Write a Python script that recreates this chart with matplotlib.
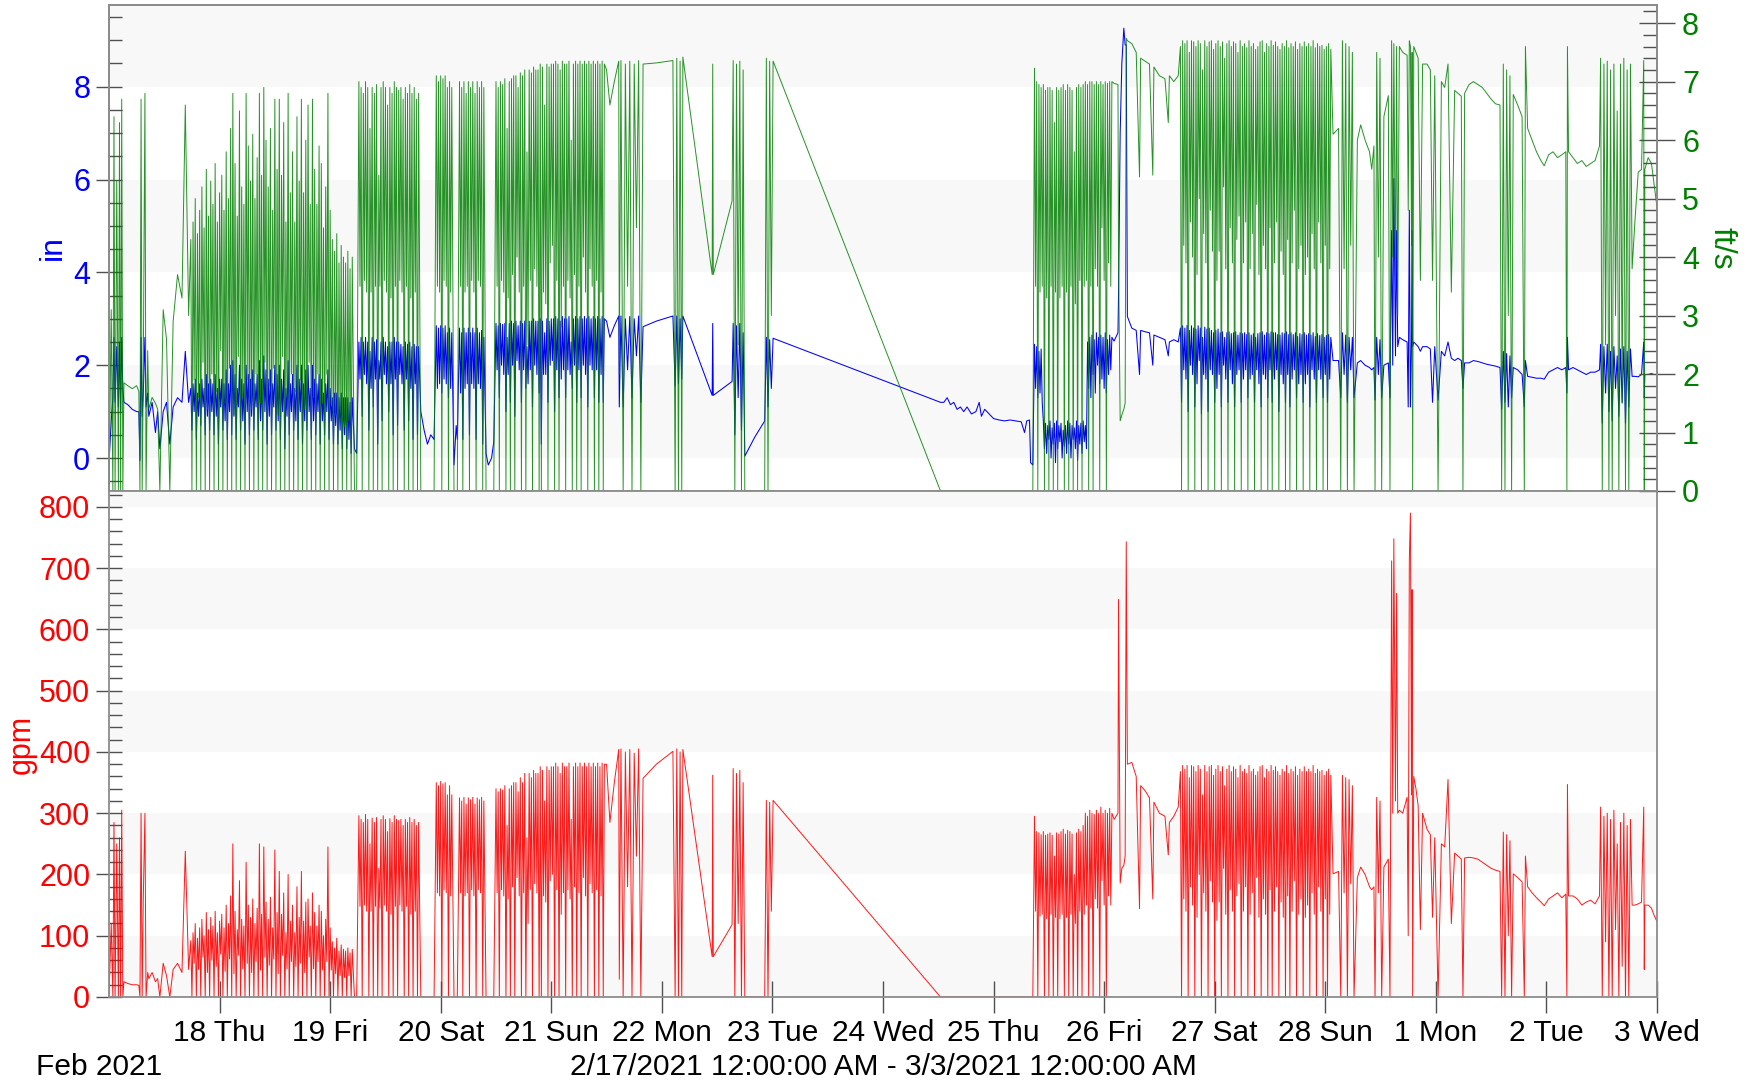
import numpy as np
import matplotlib
matplotlib.use("Agg")
import matplotlib.pyplot as plt
from matplotlib.ticker import MultipleLocator

plt.rcParams['font.family'] = ['Liberation Sans', 'DejaVu Sans']

# x axis: days after 2/17/2021 12:00 AM
day_ticks = [1, 2, 3, 4, 5, 6, 7, 8, 9, 10, 11, 12, 13, 14]
day_labels = ["18 Thu", "19 Fri", "20 Sat", "21 Sun", "22 Mon", "23 Tue", "24 Wed",
              "25 Thu", "26 Fri", "27 Sat", "28 Sun", "1 Mon", "2 Tue", "3 Wed"]

# sample times (days), one line per stretch of the record
t_days = [
    0.00, 0.02, 0.035, 0.045, 0.055, 0.07, 0.085, 0.095, 0.105, 0.115, 0.125, 0.135,
    0.17, 0.21, 0.25, 0.27,
    0.28, 0.29, 0.30, 0.31, 0.325, 0.335, 0.35, 0.36,
    0.39, 0.42, 0.44, 0.46, 0.49, 0.52, 0.55, 0.58, 0.62, 0.66, 0.69, 0.72,
    # 18 Thu - 19 Fri bursts
    0.74, 0.75, 0.76, 0.77, 0.78, 0.79, 0.80, 0.81, 0.82, 0.83,
    0.84, 0.85, 0.86, 0.87, 0.88, 0.89, 0.90, 0.91, 0.92, 0.93,
    0.94, 0.95, 0.96, 0.97, 0.98, 0.99, 1.00, 1.01, 1.02, 1.03,
    1.04, 1.05, 1.06, 1.07, 1.08, 1.09, 1.10, 1.11, 1.12, 1.13,
    1.14, 1.15, 1.16, 1.17, 1.18, 1.19, 1.20, 1.21, 1.22, 1.23,
    1.24, 1.25, 1.26, 1.27, 1.28, 1.29, 1.30, 1.31, 1.32, 1.33,
    1.34, 1.35, 1.36, 1.37, 1.38, 1.39, 1.40, 1.41, 1.42, 1.43,
    1.44, 1.45, 1.46, 1.47, 1.48, 1.49, 1.50, 1.51, 1.52, 1.53,
    1.54, 1.55, 1.56, 1.57, 1.58, 1.59, 1.60, 1.61, 1.62, 1.63,
    1.64, 1.65, 1.66, 1.67, 1.68, 1.69, 1.70, 1.71, 1.72, 1.73,
    1.74, 1.75, 1.76, 1.77, 1.78, 1.79, 1.80, 1.81, 1.82, 1.83,
    1.84, 1.85, 1.86, 1.87, 1.88, 1.89, 1.90, 1.91, 1.92, 1.93,
    1.94, 1.95, 1.96, 1.97, 1.98, 1.99, 2.00, 2.01, 2.02, 2.03,
    2.04, 2.05, 2.06, 2.07, 2.08, 2.09, 2.10, 2.11, 2.12, 2.13,
    2.14, 2.15, 2.16, 2.17, 2.18, 2.19, 2.20,
    2.22, 2.24,
    # 20 Sat
    2.26, 2.27, 2.28, 2.29, 2.30, 2.31, 2.32, 2.33, 2.34, 2.35,
    2.36, 2.37, 2.38, 2.39, 2.40, 2.41, 2.42, 2.43, 2.44, 2.45,
    2.46, 2.47, 2.48, 2.49, 2.50, 2.51, 2.52, 2.53, 2.54, 2.55,
    2.56, 2.57, 2.58, 2.59, 2.60, 2.61, 2.62, 2.63, 2.64, 2.65,
    2.66, 2.67, 2.68, 2.69, 2.70, 2.71, 2.72, 2.73, 2.74, 2.75,
    2.76, 2.77, 2.78, 2.79, 2.80,
    2.82, 2.85, 2.88, 2.91, 2.94,
    2.96, 2.97, 2.98, 2.99, 3.00, 3.01, 3.02, 3.03, 3.04, 3.05, 3.06, 3.07, 3.08, 3.09, 3.10,
    3.12, 3.14, 3.15,
    3.17, 3.18, 3.19, 3.20, 3.21, 3.22, 3.23, 3.24, 3.25, 3.26,
    3.27, 3.28, 3.29, 3.30, 3.31, 3.32, 3.33, 3.34, 3.35, 3.36,
    3.37, 3.38, 3.39,
    3.41, 3.43, 3.46, 3.48,
    # 21 Sun
    3.50, 3.51, 3.52, 3.53, 3.54, 3.55, 3.56, 3.57, 3.58, 3.59,
    3.60, 3.61, 3.62, 3.63, 3.64, 3.65, 3.66, 3.67, 3.68, 3.69,
    3.70, 3.71, 3.72, 3.73, 3.74, 3.75, 3.76, 3.77, 3.78, 3.79,
    3.80, 3.81, 3.82, 3.83, 3.84, 3.85, 3.86, 3.87, 3.88, 3.89,
    3.90, 3.91, 3.92, 3.93, 3.94, 3.95, 3.96, 3.97, 3.98, 3.99,
    4.00, 4.01, 4.02, 4.03, 4.04, 4.05, 4.06, 4.07, 4.08, 4.09,
    4.10, 4.11, 4.12, 4.13, 4.14, 4.15, 4.16, 4.17, 4.18, 4.19,
    4.20, 4.21, 4.22, 4.23, 4.24, 4.25, 4.26, 4.27, 4.28, 4.29,
    4.30, 4.31, 4.32, 4.33, 4.34, 4.35, 4.36, 4.37, 4.38, 4.39,
    4.40, 4.41, 4.42, 4.43, 4.44, 4.45, 4.46, 4.47, 4.48,
    4.50, 4.53, 4.57, 4.61, 4.615,
    4.63, 4.65, 4.67, 4.69, 4.71, 4.73, 4.75, 4.77, 4.79, 4.81,
    4.83, 4.95, 5.10,
    5.12, 5.135, 5.15, 5.165, 5.18, 5.19,
    5.455, 5.46, 5.465, 5.635,
    5.645, 5.66, 5.675, 5.69, 5.705, 5.72, 5.735, 5.75,
    5.84, 5.93,
    5.945, 5.96, 5.975, 5.99, 6.006,
    7.52,
    7.55, 7.58, 7.61, 7.64, 7.67, 7.70, 7.73, 7.76, 7.80, 7.84,
    7.87, 7.89, 7.92, 7.96, 8.00, 8.05, 8.10, 8.15, 8.20, 8.25,
    8.28, 8.30, 8.325, 8.335, 8.355,
    # 25 Thu - 26 Fri
    8.37, 8.38, 8.39, 8.40, 8.41, 8.42, 8.43, 8.44, 8.45, 8.46,
    8.47, 8.48, 8.49, 8.50, 8.51, 8.52, 8.53, 8.54, 8.55, 8.56,
    8.57, 8.58, 8.59, 8.60, 8.61, 8.62, 8.63, 8.64, 8.65, 8.66,
    8.67, 8.68, 8.69, 8.70, 8.71, 8.72, 8.73, 8.74, 8.75, 8.76,
    8.77, 8.78, 8.79, 8.80, 8.81, 8.82, 8.83, 8.84, 8.85, 8.86,
    8.87, 8.88, 8.89, 8.90, 8.91, 8.92, 8.93, 8.94, 8.95, 8.96,
    8.97, 8.98, 8.99, 9.00, 9.01, 9.02, 9.03, 9.04, 9.05, 9.06,
    9.07,
    9.09, 9.125,
    9.13, 9.145, 9.16, 9.178, 9.19, 9.20, 9.21,
    9.25, 9.29, 9.32, 9.33, 9.37, 9.41, 9.44, 9.45, 9.50, 9.55, 9.58, 9.59, 9.63, 9.67,
    # 27 Sat - 28 Sun
    9.69, 9.70, 9.71, 9.72, 9.73, 9.74, 9.75, 9.76, 9.77, 9.78,
    9.79, 9.80, 9.81, 9.82, 9.83, 9.84, 9.85, 9.86, 9.87, 9.88,
    9.89, 9.90, 9.91, 9.92, 9.93, 9.94, 9.95, 9.96, 9.97, 9.98,
    9.99, 10.00, 10.01, 10.02, 10.03, 10.04, 10.05, 10.06, 10.07, 10.08,
    10.09, 10.10, 10.11, 10.12, 10.13, 10.14, 10.15, 10.16, 10.17, 10.18,
    10.19, 10.20, 10.21, 10.22, 10.23, 10.24, 10.25, 10.26, 10.27, 10.28,
    10.29, 10.30, 10.31, 10.32, 10.33, 10.34, 10.35, 10.36, 10.37, 10.38,
    10.39, 10.40, 10.41, 10.42, 10.43, 10.44, 10.45, 10.46, 10.47, 10.48,
    10.49, 10.50, 10.51, 10.52, 10.53, 10.54, 10.55, 10.56, 10.57, 10.58,
    10.59, 10.60, 10.61, 10.62, 10.63, 10.64, 10.65, 10.66, 10.67, 10.68,
    10.69, 10.70, 10.71, 10.72, 10.73, 10.74, 10.75, 10.76, 10.77, 10.78,
    10.79, 10.80, 10.81, 10.82, 10.83, 10.84, 10.85, 10.86, 10.87, 10.88,
    10.89, 10.90, 10.91, 10.92, 10.93, 10.94, 10.95, 10.96, 10.97, 10.98,
    10.99, 11.00, 11.01, 11.02, 11.03, 11.04, 11.05,
    11.07, 11.12,
    11.14, 11.155, 11.17, 11.185, 11.20, 11.215, 11.23, 11.245, 11.26,
    11.29, 11.32, 11.36, 11.40, 11.42, 11.44,
    11.45, 11.465, 11.48, 11.495, 11.51,
    11.53, 11.57,
    11.585, 11.60, 11.61, 11.62, 11.635, 11.645, 11.655,
    11.67, 11.70, 11.74, 11.75, 11.76, 11.77, 11.78, 11.785, 11.79, 11.80, 11.82, 11.84, 11.86, 11.88,
    11.92, 11.95, 11.97, 11.99, 12.02, 12.05, 12.08, 12.11, 12.14, 12.17, 12.20, 12.23, 12.245, 12.26,
    12.30, 12.34, 12.38, 12.42, 12.46, 12.50, 12.54, 12.58,
    12.595, 12.61, 12.625, 12.64, 12.655, 12.67, 12.685, 12.70,
    12.74, 12.78, 12.80, 12.81, 12.83, 12.87, 12.91, 12.95, 12.98,
    13.02, 13.06, 13.10, 13.14, 13.175, 13.185, 13.19, 13.20,
    13.24, 13.28, 13.32, 13.36, 13.40, 13.44, 13.48,
    13.49, 13.505, 13.52, 13.535, 13.55, 13.565, 13.58, 13.595, 13.61, 13.625,
    13.64, 13.655, 13.67, 13.685, 13.70, 13.715, 13.73, 13.745, 13.76, 13.775,
    13.80, 13.83, 13.86, 13.88, 13.885, 13.89, 13.92, 13.95, 13.97, 14.0,
]

# depth (in), left axis of the top panel
depth_in = [
    -0.1, 0.8, 1.3, 2.6, 1.2, 2.4, 1.1, 2.5, 1.0, 2.6, 1.5, 1.2,
    1.15, 1.05, 1.0, 1.0,
    -0.05, 2.6, 0.9, 1.4, 2.6, 1.1, 1.4, 0.9,
    1.2, 0.55, 1.0, 0.2, 1.0, 1.2, 0.3, 1.1, 1.3, 1.2, 2.3, 1.2,
    1.5, 0.6, 1.6, 1.0, 1.7, 0.4, 1.4, 0.9, 1.6, 0.7,
    1.7, 1.1, 1.5, 0.5, 1.8, 0.9, 1.6, 0.6, 1.7, 1.0,
    1.6, 0.5, 1.8, 0.9, 1.5, 0.3, 1.7, 1.1, 1.7, 0.6,
    1.6, 0.8, 1.9, 0.4, 1.6, 1.0, 2.0, 0.5, 2.1, 0.9,
    1.8, 0.4, 1.5, 1.1, 2.0, 0.6, 1.7, 0.8, 1.6, 0.3,
    2.0, 1.0, 1.8, 0.5, 1.7, 0.9, 1.9, 0.6, 1.6, 1.1,
    1.8, 0.4, 2.1, 0.8, 1.7, 0.6, 2.2, 1.0, 1.9, 0.3,
    1.7, 0.9, 1.9, 0.5, 1.6, 1.1, 2.0, 0.6, 1.8, 0.8,
    2.0, 0.4, 1.7, 1.0, 1.9, 0.2, 1.5, 0.9, 2.1, 0.5,
    1.6, 1.0, 1.8, 0.6, 1.5, 0.8, 2.0, 0.4, 1.7, 1.0,
    2.0, 0.3, 1.6, 0.8, 1.9, 0.6, 2.0, 1.0, 1.5, 0.4,
    2.0, 0.8, 1.7, 0.5, 1.6, 1.0, 1.8, 0.3, 1.7, 0.8,
    1.4, 0.5, 1.6, 1.0, 1.9, 0.4, 1.5, 0.8, 1.3, 0.3,
    1.4, 0.7, 1.4, 0.3, 1.3, 0.6, 1.4, 0.2, 1.3, 0.5,
    1.3, 0.2, 1.3, 0.4, 1.2, 0.1, 1.3,
    0.2, 0.1,
    2.5, 1.7, 2.6, 0.9, 2.5, 1.8, 2.6, 1.6, 2.5, 0.6,
    2.3, 1.5, 2.6, 1.1, 2.5, 1.7, 2.55, 0.3, 2.1, 1.7,
    2.5, 0.8, 2.6, 1.8, 2.5, 1.6, 2.4, 1.0, 2.5, 1.6,
    2.5, 0.5, 2.6, 1.7, 2.5, 0.7, 2.5, 1.8, 2.45, 1.6,
    2.4, 0.6, 2.5, 1.7, 2.45, 0.8, 2.5, 1.5, 2.4, 0.4,
    2.45, 1.6, 2.4, 0.5, 2.4,
    1.0, 0.6, 0.3, 0.5, 0.4,
    2.85, 1.5, 2.8, 1.6, 2.85, 1.4, 2.8, 1.7, 2.85, 1.6, 2.7, 1.3, 2.8, 1.5, 2.7,
    -0.15, 0.7, 0.4,
    2.8, 1.4, 2.7, 0.4, 2.8, 1.5, 2.7, 1.6, 2.8, 0.5,
    2.7, 1.6, 2.8, 1.5, 2.7, 0.4, 2.8, 1.6, 2.7, 1.5,
    2.75, 0.3, 2.6,
    0.1, -0.15, 0.0, 0.35,
    2.9, 1.9, 2.85, 1.3, 2.9, 2.0, 2.88, 1.8, 2.9, 1.0,
    2.6, 1.8, 2.9, 1.2, 2.95, 2.0, 2.9, 0.9, 2.95, 2.1,
    2.85, 1.9, 2.95, 1.2, 2.9, 1.9, 2.95, 1.5, 2.4, 1.6,
    2.95, 1.9, 2.95, 1.1, 3.0, 2.0, 2.95, 1.8, 2.95, 1.4,
    3.0, 0.3, 2.95, 1.8, 2.7, 1.8, 3.0, 1.2, 2.95, 2.0,
    3.0, 2.1, 3.0, 1.0, 3.05, 1.9, 3.0, 1.3, 2.95, 1.7,
    3.05, 1.9, 3.0, 1.3, 3.0, 1.9, 3.05, 1.8, 2.5, 1.5,
    3.0, 2.0, 3.05, 1.2, 3.0, 1.9, 3.05, 1.3, 3.0, 2.0,
    3.05, 1.8, 3.0, 1.1, 3.05, 2.0, 3.0, 1.9, 3.05, 1.3,
    3.0, 1.9, 3.05, 1.2, 3.0, 1.8, 3.05, 1.2, 3.0,
    2.95, 2.6, 2.85, 3.06, 1.1,
    3.06, 1.1, 3.0, 1.9, 3.05, 1.3, 3.0, 2.2, 3.06, 1.2,
    2.83, 2.95, 3.06,
    1.55, 3.06, 1.6, 3.0, 1.7, 3.06,
    1.35, 2.9, 1.35, 1.65,
    2.9, 0.5, 2.85, 1.3, 2.9, 0.6, 2.7, 0.04,
    0.45, 0.8,
    2.6, 1.1, 2.55, 1.5, 2.58,
    1.2,
    1.2, 1.3, 1.15, 1.2, 1.05, 1.1, 1.0, 1.1, 0.95, 1.0,
    1.2, 0.9, 1.05, 0.95, 0.85, 0.82, 0.8, 0.82, 0.8, 0.78,
    0.55, 0.8, 0.82, -0.1, -0.15,
    2.45, 1.5, 2.4, 1.3, 2.3, 1.4, 2.35, 1.2, 0.8, 0.2,
    0.75, 0.1, 0.7, 0.4, 0.8, 0.0, 0.65, 0.3, 0.75, -0.1,
    0.8, 0.2, 0.7, 0.35, 0.75, 0.0, 0.6, 0.25, 0.7, 0.1,
    0.8, 0.3, 0.75, 0.0, 0.7, 0.4, 0.65, 0.2, 0.8, -0.05,
    0.7, 0.3, 0.75, 0.1, 0.8, 0.35, 0.7, 0.2, 2.5, 1.5,
    2.6, 1.3, 2.65, 1.8, 2.55, 1.4, 2.7, 2.0, 2.6, 1.6,
    2.65, 1.7, 2.6, 1.5, 2.7, 1.4, 2.55, 1.8, 2.65, 1.9,
    2.6,
    2.52, 2.7,
    3.5, 7.0, 8.5, 9.26, 8.9, 8.9, 3.05,
    2.8, 2.75, 1.8, 2.75, 2.72, 2.7, 2.0, 2.65, 2.6, 2.55, 2.2, 2.5, 2.55, 2.5,
    2.8, 1.2, 2.85, 1.9, 2.8, 1.7, 2.86, 1.0, 2.75, 2.0,
    2.85, 1.8, 2.8, 1.1, 2.78, 1.6, 2.85, 2.1, 2.8, 0.95,
    2.6, 1.8, 2.82, 1.7, 2.78, 1.0, 2.8, 1.9, 2.75, 1.8,
    2.7, 1.2, 2.75, 1.5, 2.78, 1.8, 2.7, 1.1, 2.72, 2.0,
    2.6, 1.7, 2.7, 1.2, 2.72, 1.9, 2.68, 1.6, 2.7, 1.1,
    2.72, 1.8, 2.65, 1.9, 2.7, 1.2, 2.68, 1.7, 2.7, 1.9,
    2.66, 1.3, 2.7, 1.7, 2.65, 1.8, 2.68, 1.2, 2.6, 1.9,
    2.68, 1.6, 2.7, 1.1, 2.72, 1.8, 2.65, 1.7, 2.7, 1.3,
    2.68, 1.9, 2.72, 1.2, 2.7, 1.7, 2.7, 1.9, 2.66, 1.0,
    2.65, 1.8, 2.7, 1.6, 2.68, 1.2, 2.72, 1.8, 2.66, 1.1,
    2.7, 1.7, 2.66, 1.9, 2.7, 1.3, 2.62, 1.6, 2.68, 1.8,
    2.66, 1.2, 2.7, 1.6, 2.65, 1.8, 2.68, 1.1, 2.65, 1.9,
    2.7, 1.7, 2.62, 1.2, 2.68, 1.9, 2.64, 1.7, 2.66, 1.3,
    2.6, 1.8, 2.64, 1.2, 2.66, 1.7, 2.6,
    2.1, 2.1,
    1.3, 2.7, 1.8, 2.65, 1.2, 2.6, 1.9, 2.6, 1.3,
    2.05, 2.1, 2.0, 1.95, 1.9, 1.95,
    1.25, 2.6, 1.8, 2.55, 1.3,
    2.0, 2.05,
    1.3, 4.9, 2.0, 6.02, 2.2, 4.9, 2.4,
    2.6, 2.55, 2.5, 1.1, 5.34, 1.1, 2.5, 4.9, 2.4, 2.5, 2.45, 2.4, 2.3, 2.4,
    2.4, 2.35, 1.2, 2.4, 1.25, 2.3, 2.2, 2.5, 2.15, 2.1, 2.15, 2.1, 1.5, 2.05,
    2.05, 2.1, 2.08, 2.05, 2.02, 2.0, 1.98, 1.95,
    1.05, 2.3, 1.2, 2.25, 1.1, 2.2, 1.3, 1.95,
    1.9, 1.8, 1.1, 2.1, 1.76, 1.74, 1.72, 1.72, 1.7,
    1.85, 1.9, 1.95, 1.9, 1.95, 1.4, 2.6, 1.9,
    1.95, 1.9, 1.85, 1.8, 1.85, 1.85, 1.9,
    2.45, 0.75, 2.4, 1.4, 2.45, 1.0, 2.3, 0.8, 2.4, 1.5,
    2.2, 0.9, 2.35, 1.2, 2.4, 0.75, 2.3, 1.1, 2.35, 1.76,
    1.76, 1.75, 1.8, 2.5, 1.3, 1.8, 1.8, 1.82, 1.8, 1.8,
]

# velocity (ft/s), right axis of the top panel
velocity_fts = [
    0.0, 3.1, 0.0, 6.4, 0.0, 5.3, 0.0, 6.3, 0.0, 6.7, 0.0, 1.85,
    1.8, 1.75, 1.8, 1.7,
    0.0, 6.7, 0.0, 2.0, 6.8, 0.0, 2.4, 1.4,
    1.6, 1.5, 1.4, 0.0, 3.1, 2.6, 0.0, 2.9, 3.7, 3.3, 6.6, 3.0,
    4.3, 0.0, 4.6, 1.9, 5.0, 0.0, 4.4, 1.6, 4.8, 0.0,
    5.2, 2.2, 4.5, 0.0, 5.5, 1.4, 4.7, 0.0, 5.3, 2.0,
    4.9, 0.0, 5.6, 1.7, 4.6, 0.0, 5.1, 2.4, 5.4, 0.0,
    4.8, 1.5, 5.8, 0.0, 5.0, 2.1, 6.2, 0.0, 6.8, 1.3,
    5.6, 0.0, 4.7, 2.3, 6.5, 0.0, 5.2, 1.6, 4.9, 0.0,
    6.8, 1.9, 5.9, 0.0, 5.3, 1.4, 6.1, 0.0, 5.0, 2.0,
    5.7, 0.0, 6.8, 1.5, 5.4, 0.0, 6.9, 2.2, 6.0, 0.0,
    5.2, 1.8, 6.2, 0.0, 4.8, 2.1, 6.7, 0.0, 5.5, 1.3,
    6.7, 0.0, 5.4, 2.3, 6.3, 0.0, 4.6, 1.6, 6.8, 0.0,
    5.1, 2.0, 5.8, 0.0, 4.6, 1.7, 6.4, 0.0, 5.3, 1.9,
    6.7, 0.0, 5.1, 1.4, 6.0, 0.0, 6.6, 2.2, 4.9, 0.0,
    6.7, 1.6, 5.5, 0.0, 4.9, 2.0, 5.9, 0.0, 5.6, 1.5,
    4.5, 0.0, 5.2, 2.0, 6.8, 0.0, 4.8, 1.5, 4.3, 0.0,
    4.1, 1.3, 4.4, 0.0, 3.9, 1.2, 4.2, 0.0, 4.0, 1.1,
    3.9, 0.0, 4.1, 1.2, 3.8, 0.0, 4.0,
    0.0, 0.0,
    7.0, 3.5, 6.9, 0.0, 6.8, 3.6, 7.0, 3.4, 6.9, 0.0,
    6.2, 3.4, 6.9, 0.0, 6.8, 3.5, 6.95, 0.0, 5.4, 3.5,
    6.9, 0.0, 7.0, 3.6, 6.9, 3.4, 6.6, 0.0, 6.9, 3.3,
    6.8, 0.0, 7.0, 3.5, 6.9, 0.0, 6.85, 3.6, 6.9, 3.4,
    6.7, 0.0, 6.9, 3.5, 6.8, 0.0, 6.95, 3.3, 6.8, 0.0,
    6.9, 3.4, 6.7, 0.0, 6.8,
    0.0, 0.0, 0.0, 0.0, 0.0,
    7.1, 3.5, 7.0, 3.4, 7.1, 0.0, 7.05, 3.6, 7.1, 3.5, 6.9, 0.0, 7.0, 3.4, 6.9,
    0.0, 0.0, 0.0,
    7.0, 3.5, 6.9, 0.0, 7.0, 3.4, 6.8, 3.5, 7.0, 0.0,
    6.9, 3.6, 7.0, 3.4, 6.8, 0.0, 7.0, 3.6, 6.9, 3.5,
    7.0, 0.0, 6.9,
    0.0, 0.0, 0.0, 0.0,
    7.0, 3.5, 6.9, 0.0, 7.0, 3.6, 6.95, 3.4, 7.05, 0.0,
    6.2, 3.3, 7.0, 0.0, 7.05, 3.7, 7.1, 0.0, 7.1, 4.0,
    6.9, 3.4, 7.15, 0.0, 7.1, 3.5, 7.2, 0.0, 5.8, 2.5,
    7.2, 3.6, 7.15, 0.0, 7.25, 3.8, 7.2, 3.5, 7.2, 0.0,
    7.3, 0.0, 7.25, 3.4, 6.6, 3.2, 7.3, 0.0, 7.25, 3.9,
    7.3, 4.2, 7.3, 0.0, 7.35, 3.6, 7.3, 0.0, 7.2, 2.8,
    7.35, 3.5, 7.3, 0.0, 7.3, 3.6, 7.35, 3.3, 6.0, 0.0,
    7.3, 3.7, 7.35, 0.0, 7.3, 3.5, 7.35, 0.0, 7.3, 4.0,
    7.35, 3.4, 7.3, 0.0, 7.35, 3.8, 7.3, 3.5, 7.35, 0.0,
    7.3, 3.6, 7.35, 0.0, 7.3, 3.4, 7.35, 0.0, 7.3,
    7.2, 6.6, 7.0, 7.35, 2.0,
    7.36, 0.0, 7.3, 3.5, 7.35, 0.0, 7.3, 4.5, 7.36, 0.0,
    7.3, 7.32, 7.36,
    0.0, 7.4, 0.0, 7.35, 0.0, 7.42,
    3.7, 7.3, 3.7, 4.96,
    7.36, 0.0, 7.3, 2.5, 7.35, 0.0, 7.2, 0.0,
    0.0, 0.0,
    7.4, 0.0, 7.35, 3.0, 7.35,
    0.0,
    0.0, 0.0, 0.0, 0.0, 0.0, 0.0, 0.0, 0.0, 0.0, 0.0,
    0.0, 0.0, 0.0, 0.0, 0.0, 0.0, 0.0, 0.0, 0.0, 0.0,
    0.0, 0.0, 0.0, 0.0, 0.0,
    7.23, 3.5, 7.0, 0.0, 6.95, 3.4, 6.9, 3.5, 6.95, 0.0,
    6.85, 3.3, 6.9, 0.0, 6.9, 3.5, 6.85, 0.0, 6.3, 3.4,
    6.9, 0.0, 6.85, 3.3, 6.9, 3.5, 6.95, 0.0, 6.85, 3.4,
    6.95, 0.0, 6.9, 3.5, 6.85, 0.0, 5.8, 3.2, 6.9, 0.0,
    6.95, 3.6, 6.9, 0.0, 6.95, 3.5, 7.0, 3.6, 6.95, 0.0,
    7.0, 3.5, 7.0, 0.0, 6.95, 3.8, 7.0, 3.5, 6.95, 0.0,
    7.0, 4.5, 6.95, 3.6, 7.0, 0.0, 6.97, 3.9, 7.0, 3.5,
    7.0,
    6.97, 6.95,
    4.0, 1.2, 1.3, 1.4, 1.5, 7.74, 7.7,
    7.65, 7.5, 5.37, 7.4, 7.35, 7.3, 5.4, 7.25, 7.1, 7.05, 6.3, 7.1, 7.0, 7.1,
    7.6, 0.0, 7.7, 4.2, 7.65, 3.9, 7.7, 0.0, 7.5, 4.6,
    7.7, 4.0, 7.68, 0.0, 7.6, 3.7, 7.7, 5.0, 7.65, 0.0,
    7.2, 4.4, 7.7, 3.9, 7.6, 0.0, 7.68, 4.8, 7.7, 4.1,
    7.55, 0.0, 7.65, 3.6, 7.7, 4.1, 7.6, 0.0, 7.68, 5.2,
    7.4, 3.8, 7.65, 0.0, 7.7, 4.5, 7.6, 3.9, 7.68, 0.0,
    7.65, 4.3, 7.5, 4.7, 7.7, 0.0, 7.6, 3.9, 7.65, 4.6,
    7.58, 0.0, 7.7, 3.8, 7.6, 4.4, 7.65, 0.0, 7.55, 4.9,
    7.6, 3.7, 7.68, 0.0, 7.7, 4.2, 7.5, 3.8, 7.65, 0.0,
    7.6, 4.5, 7.7, 0.0, 7.62, 3.9, 7.68, 4.6, 7.6, 0.0,
    7.55, 4.1, 7.65, 3.7, 7.6, 0.0, 7.7, 4.3, 7.58, 0.0,
    7.65, 3.9, 7.6, 4.8, 7.68, 0.0, 7.55, 3.8, 7.65, 4.2,
    7.6, 0.0, 7.68, 3.7, 7.6, 4.0, 7.65, 0.0, 7.6, 4.4,
    7.7, 3.8, 7.58, 0.0, 7.65, 4.6, 7.6, 3.9, 7.62, 0.0,
    7.55, 4.2, 7.6, 0.0, 7.65, 3.8, 7.55,
    6.1, 6.2,
    0.0, 7.7, 3.8, 7.65, 0.0, 7.6, 4.2, 7.5, 0.0,
    6.0, 6.26, 6.0, 5.8, 5.5, 5.9,
    0.0, 7.5, 4.0, 7.4, 0.0,
    6.4, 6.76,
    0.0, 7.7, 4.0, 7.65, 3.5, 7.6, 3.0,
    7.6, 7.5, 7.45, 4.8, 7.7, 7.6, 4.2, 7.5, 0.0, 7.6, 7.5, 7.4, 3.6, 7.3,
    7.3, 7.2, 3.6, 7.1, 0.0, 7.0, 6.9, 7.3, 3.4, 6.85, 6.8, 6.75, 0.0, 6.8,
    6.95, 7.0, 6.95, 6.9, 6.8, 6.7, 6.62, 6.6,
    0.0, 7.3, 0.0, 7.2, 3.0, 7.1, 0.0, 6.78,
    6.6, 6.4, 0.0, 7.6, 6.2, 6.0, 5.8, 5.65, 5.56,
    5.75, 5.8, 5.7, 5.75, 5.8, 0.0, 7.6, 5.8,
    5.7, 5.6, 5.65, 5.55, 5.6, 5.65, 5.9,
    7.4, 0.0, 7.3, 2.5, 7.35, 0.0, 7.2, 0.0, 7.3, 3.0,
    6.5, 0.0, 7.3, 1.5, 7.4, 0.0, 7.2, 0.0, 7.3, 3.8,
    4.6, 5.45, 5.5, 7.36, 0.0, 5.5, 5.7, 5.6, 5.3, 4.85,
]

# flow (gpm), bottom panel
flow_gpm = [
    0, 120, 0, 285, 0, 250, 0, 260, 0, 305, 0, 25,
    22, 20, 20, 19,
    0, 300, 0, 160, 300, 0, 40, 30,
    40, 25, 30, 0, 55, 35, 0, 45, 55, 40, 238, 45,
    92, 0, 105, 55, 120, 0, 96, 45, 113, 0,
    127, 65, 100, 0, 138, 40, 110, 0, 130, 60,
    116, 0, 140, 50, 105, 0, 124, 70, 135, 0,
    113, 42, 150, 0, 120, 62, 165, 0, 250, 38,
    140, 0, 110, 68, 190, 0, 127, 46, 116, 0,
    220, 55, 150, 0, 130, 40, 160, 0, 120, 58,
    145, 0, 250, 44, 135, 0, 245, 65, 155, 0,
    127, 52, 163, 0, 113, 62, 240, 0, 138, 38,
    205, 0, 135, 68, 170, 0, 105, 46, 200, 0,
    124, 58, 150, 0, 105, 50, 180, 0, 130, 55,
    205, 0, 124, 40, 155, 0, 160, 65, 116, 0,
    170, 46, 138, 0, 116, 58, 150, 0, 140, 44,
    100, 0, 127, 58, 245, 0, 113, 44, 90, 0,
    80, 38, 96, 0, 75, 35, 85, 0, 78, 32,
    75, 0, 80, 35, 72, 0, 78,
    0, 0,
    296, 148, 290, 0, 285, 150, 298, 140, 290, 0,
    250, 140, 292, 0, 285, 148, 293, 0, 210, 145,
    290, 0, 296, 150, 290, 140, 270, 0, 291, 135,
    285, 0, 296, 148, 290, 0, 288, 150, 290, 140,
    280, 0, 290, 148, 285, 0, 293, 135, 285, 0,
    290, 140, 280, 0, 285,
    0, 0, 0, 0, 0,
    350, 170, 345, 165, 352, 0, 348, 175, 350, 170, 330, 0, 345, 165, 330,
    0, 0, 0,
    325, 170, 320, 0, 326, 165, 315, 170, 325, 0,
    322, 175, 326, 165, 315, 0, 325, 175, 322, 170,
    326, 0, 320,
    0, 0, 0, 0,
    340, 170, 335, 0, 340, 175, 338, 165, 345, 0,
    280, 160, 340, 0, 345, 180, 350, 0, 350, 195,
    335, 165, 358, 0, 350, 170, 365, 0, 260, 120,
    365, 175, 358, 0, 370, 185, 365, 170, 365, 0,
    376, 0, 370, 165, 320, 155, 376, 0, 370, 190,
    376, 200, 376, 0, 382, 175, 376, 0, 365, 135,
    382, 170, 376, 0, 376, 175, 382, 160, 290, 0,
    376, 180, 382, 0, 376, 170, 382, 0, 376, 195,
    382, 165, 376, 0, 382, 185, 376, 170, 382, 0,
    376, 175, 382, 0, 376, 165, 382, 0, 380,
    380, 285, 350, 404, 29,
    405, 0, 400, 180, 404, 0, 398, 230, 405, 0,
    357, 380, 401,
    0, 405, 0, 400, 0, 404,
    66, 362, 66, 118,
    373, 0, 365, 120, 370, 0, 350, 0,
    0, 0,
    321, 0, 318, 140, 321,
    0,
    0, 0, 0, 0, 0, 0, 0, 0, 0, 0,
    0, 0, 0, 0, 0, 0, 0, 0, 0, 0,
    0, 0, 0, 0, 0,
    295, 140, 270, 0, 268, 132, 265, 135, 270, 0,
    264, 128, 266, 0, 268, 135, 264, 0, 230, 130,
    268, 0, 266, 128, 270, 135, 274, 0, 266, 130,
    272, 0, 270, 135, 266, 0, 200, 120, 268, 0,
    274, 140, 270, 0, 280, 135, 300, 150, 295, 0,
    305, 145, 300, 0, 298, 160, 305, 145, 300, 0,
    310, 190, 300, 150, 305, 0, 300, 165, 308, 150,
    300,
    290, 300,
    649, 186, 210, 215, 230, 743, 380,
    383, 360, 144, 345, 337, 325, 160, 318, 300, 295, 232, 285, 295, 310,
    368, 0, 378, 160, 372, 140, 378, 0, 358, 180,
    378, 150, 376, 0, 368, 130, 378, 200, 372, 0,
    330, 170, 378, 140, 368, 0, 376, 190, 378, 155,
    362, 0, 372, 125, 378, 155, 368, 0, 376, 210,
    345, 135, 372, 0, 378, 175, 368, 140, 376, 0,
    372, 165, 358, 185, 378, 0, 368, 140, 372, 180,
    365, 0, 378, 135, 368, 170, 372, 0, 362, 195,
    368, 130, 376, 0, 378, 160, 358, 135, 372, 0,
    368, 175, 378, 0, 370, 140, 376, 180, 368, 0,
    362, 155, 372, 130, 368, 0, 378, 165, 365, 0,
    372, 140, 368, 190, 376, 0, 362, 135, 372, 160,
    368, 0, 376, 130, 368, 150, 372, 0, 368, 170,
    378, 135, 365, 0, 372, 180, 368, 140, 370, 0,
    362, 160, 368, 0, 372, 135, 362,
    201, 205,
    0, 362, 170, 358, 0, 355, 185, 345, 0,
    195, 212, 200, 180, 175, 180,
    0, 326, 170, 320, 0,
    212, 225,
    0, 712, 300, 748, 320, 659, 300,
    305, 300, 326, 100, 712, 790, 330, 665, 0, 360, 340, 312, 110, 300,
    274, 265, 130, 260, 0, 250, 245, 355, 120, 235, 230, 225, 0, 227,
    228, 227, 225, 220, 215, 210, 207, 205,
    0, 269, 0, 265, 100, 255, 0, 201,
    195, 188, 0, 230, 180, 170, 162, 155, 149,
    160, 165, 170, 162, 168, 0, 347, 165,
    165, 160, 150, 155, 158, 152, 165,
    310, 0, 295, 90, 300, 0, 290, 0, 305, 110,
    250, 0, 285, 50, 300, 0, 280, 0, 290, 150,
    150, 152, 155, 310, 45, 150, 150, 145, 135, 123,
]

n = len(t_days)
assert len(depth_in) == n and len(velocity_fts) == n and len(flow_gpm) == n, \
    (n, len(depth_in), len(velocity_fts), len(flow_gpm))

t = np.array(t_days)
depth = np.array(depth_in)
vel = np.array(velocity_fts)
flow = np.array(flow_gpm)

BLUE = '#0000ff'
GREEN = '#008000'
RED = '#ff0000'
BAND = '#f8f8f8'
SPINE = '#8c8c8c'
TICK = '#505050'

W, H = 1747, 1083
fig = plt.figure(figsize=(W / 100, H / 100), dpi=100)
x0, x1 = 109 / W, 1657 / W
ax_top = fig.add_axes([x0, 1 - 491 / H, x1 - x0, (491 - 5) / H])
ax_bot = fig.add_axes([x0, 1 - 997 / H, x1 - x0, (997 - 491) / H])
ax_vel = ax_top.twinx()

# light gray bands behind the data
for lo in (0, 4, 8):
    ax_top.axhspan(lo, lo + 2, color=BAND, lw=0, zorder=0)
for lo in (0, 200, 400, 600, 800):
    ax_bot.axhspan(lo, lo + 100, color=BAND, lw=0, zorder=0)

# thin lines, as in the logger software export
ax_top.plot(t, depth, color=BLUE, lw=0.75)
ax_vel.plot(t, vel, color=GREEN, lw=0.7, alpha=0.85)
ax_bot.plot(t, flow, color=RED, lw=0.7, alpha=0.9)

for ax in (ax_top, ax_bot, ax_vel):
    ax.set_xlim(0, 14)
    for s in ax.spines.values():
        s.set_color(SPINE)
        s.set_linewidth(1.3)
ax_bot.spines['top'].set_visible(False)

ax_top.set_ylim(-0.71, 9.76)
ax_vel.set_ylim(0, 8.31)
ax_bot.set_ylim(0, 826)

ax_top.yaxis.set_major_locator(MultipleLocator(2))
ax_top.yaxis.set_minor_locator(MultipleLocator(0.5))
ax_vel.yaxis.set_major_locator(MultipleLocator(1))
ax_vel.yaxis.set_minor_locator(MultipleLocator(0.2))
ax_bot.yaxis.set_major_locator(MultipleLocator(100))
ax_bot.yaxis.set_minor_locator(MultipleLocator(20))

ax_top.tick_params(axis='y', which='major', direction='inout', length=19, width=1,
                   color=TICK, labelcolor=BLUE, labelsize=22, pad=4)
ax_top.tick_params(axis='y', which='minor', direction='in', length=9.5, width=1, color=TICK)
ax_vel.tick_params(axis='y', which='major', direction='inout', length=26, width=1,
                   color=TICK, labelcolor=GREEN, labelsize=22, pad=5)
ax_vel.tick_params(axis='y', which='minor', direction='in', length=10, width=1, color=TICK)
ax_bot.tick_params(axis='y', which='major', direction='inout', length=19, width=1,
                   color=TICK, labelcolor=RED, labelsize=22, pad=4)
ax_bot.tick_params(axis='y', which='minor', direction='in', length=9.5, width=1, color=TICK)

ax_top.tick_params(axis='x', which='both', bottom=False, labelbottom=False)
ax_vel.tick_params(axis='x', which='both', bottom=False, labelbottom=False)
ax_bot.set_xticks(day_ticks)
ax_bot.set_xticklabels(day_labels)
ax_bot.tick_params(axis='x', which='major', direction='inout', length=23, width=1,
                   color=TICK, labelsize=21.5, pad=4)

# axis titles and the footer
fig.text(53 / W, 1 - 248 / H, 'in', rotation=90, color=BLUE, fontsize=23, ha='center', va='center')
fig.text(1722 / W, 1 - 248 / H, 'ft/s', rotation=270, color=GREEN, fontsize=23, ha='center', va='center')
fig.text(22 / W, 1 - 744 / H, 'gpm', rotation=90, color=RED, fontsize=22, ha='center', va='center')
fig.text(36 / W, 1 - 1067 / H, 'Feb 2021', fontsize=21.5, ha='left', va='center')
fig.text((x0 + x1) / 2, 1 - 1067 / H, '2/17/2021 12:00:00 AM - 3/3/2021 12:00:00 AM',
         fontsize=21.5, ha='center', va='center')

fig.savefig('out.png', dpi=100)
